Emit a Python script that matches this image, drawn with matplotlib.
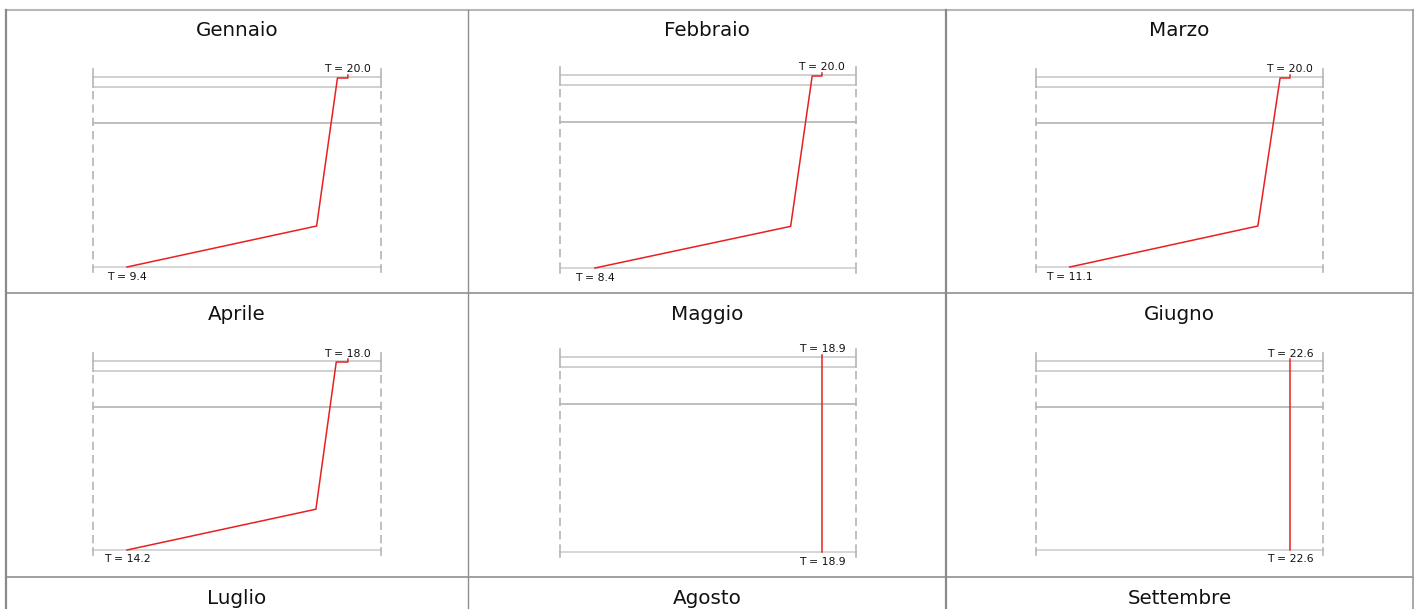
import matplotlib
matplotlib.use("Agg")
import matplotlib.pyplot as plt

# === Daten ===
mesi = ["Gennaio", "Febbraio", "Marzo",
        "Aprile", "Maggio", "Giugno",
        "Luglio", "Agosto", "Settembre"]

# Grenzen der Schichten (cm, von innen nach aussen)
strati = [0.0, 2.0, 9.2, 38.0]

# Tiefe der Profilpunkte (cm)
prof_depth = [-0.4, 0.2, 0.2, 29.8, 38.0]

# Temperaturprofile (°C)
t_gen = [20.0, 20.0, 19.5, 18.5, 9.4]
t_feb = [20.0, 20.0, 19.5, 18.4, 8.4]
t_mar = [20.0, 20.0, 19.6, 18.7, 11.1]
t_apr = [18.0, 18.0, 17.8, 17.45, 14.2]
t_mag = [18.9, 18.9, 18.9, 18.9, 18.9]
t_giu = [22.6, 22.6, 22.6, 22.6, 22.6]
profili = [t_gen, t_feb, t_mar, t_apr, t_mag, t_giu]

# === Layout (Pixel) ===
W, H = 1415, 609
col_x = [6, 468, 946, 1413]
row_y = [10, 293, 577, 861]
# (links, rechts, oben, unten) der Wandzeichnung pro Monat
pannelli = [(93, 381, 77, 267), (560, 856, 75, 268), (1036, 1323, 77, 267),
            (93, 381, 361, 550), (560, 856, 357, 552), (1036, 1323, 361, 550)]

fig = plt.figure(figsize=(W / 100, H / 100), dpi=100)

# Tabelle im Hintergrund
bg = fig.add_axes([0, 0, 1, 1])
bg.set_xlim(0, W)
bg.set_ylim(H, 0)
bg.axis("off")
bg.plot([col_x[0], col_x[-1]], [row_y[0], row_y[0]], color="#b8b8b8", lw=1.5)
for y in row_y[1:3]:
    bg.plot([col_x[0], col_x[-1]], [y, y], color="#909090", lw=1.2)
bg.plot([col_x[0], col_x[0]], [row_y[0], H], color="#8a8a8a", lw=1.6)
bg.plot([col_x[1], col_x[1]], [row_y[0], H], color="#8e8e8e", lw=1.0)
bg.plot([col_x[2], col_x[2]], [row_y[0], H], color="#8a8a8a", lw=1.6)
bg.plot([col_x[3], col_x[3]], [row_y[0], H], color="#999999", lw=1.2)

for i, mese in enumerate(mesi):
    r, c = divmod(i, 3)
    cx = (col_x[c] + col_x[c + 1]) / 2
    bg.text(cx, row_y[r] + 21, mese, ha="center", va="center",
            fontsize=14.3, color="#111111")

# === Wandprofile ===
for (xl, xr, yt, yb), temp in zip(pannelli, profili):
    scala = (yb - yt) / (strati[-1] - strati[0])
    d0, d1 = -3.0, 41.0
    ax = fig.add_axes([xl / W, 1 - (yb + (d1 - strati[-1]) * scala) / H,
                       (xr - xl) / W, (d1 - d0) * scala / H])
    ax.axis("off")

    tmin, tmax = min(temp), max(temp)
    if tmax > tmin:
        span = (tmax - tmin) / 0.767
        left = tmin - 0.118 * span
    else:
        span = 10.0
        left = tmax - 0.885 * span
    right = left + span
    ax.set_xlim(left, right)
    ax.set_ylim(d1, d0)

    # Schichtgrenzen
    farben = ["#c4c4c4", "#c4c4c4", "#adadad", "#cccccc"]
    for d, col in zip(strati, farben):
        ax.plot([left, right], [d, d], color=col, lw=1.1, clip_on=False)

    # seitliche Begrenzung
    for x in (left, right):
        ax.plot([x, x], [-1.6, strati[1]], color="#b5b5b5", lw=1.2, clip_on=False)
        ax.plot([x, x], [strati[1] + 0.8, 37.4], color="#b5b5b5", lw=1.2,
                linestyle=(0, (5, 3)), clip_on=False)
        ax.plot([x, x], [37.6, 39.0], color="#b5b5b5", lw=1.2, clip_on=False)

    # Temperaturverlauf
    ax.plot(temp, prof_depth, color="#e82020", lw=1.1, clip_on=False)
    ax.text(temp[0], -0.5, f"T = {temp[0]:.1f}", ha="center", va="bottom",
            fontsize=7.8, color="#111111")
    ax.text(temp[-1], 38.9, f"T = {temp[-1]:.1f}", ha="center", va="top",
            fontsize=7.8, color="#111111")

plt.savefig("out.png", dpi=100)
